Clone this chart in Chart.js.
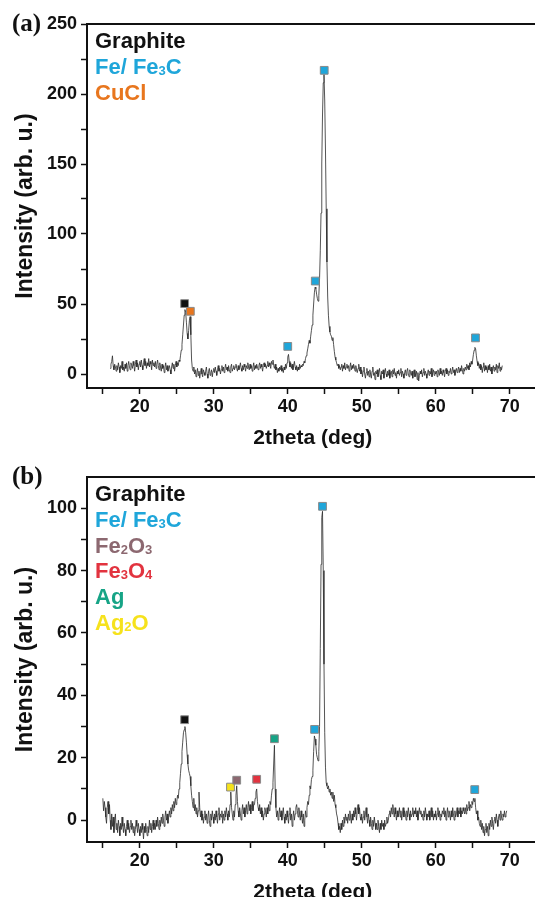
<!DOCTYPE html>
<html>
<head>
<meta charset="utf-8">
<script src="https://cdn.jsdelivr.net/npm/chart.js@4.4.1/dist/chart.umd.min.js"></script>
<style>
  html, body { margin: 0; padding: 0; background: #fff; overflow: hidden; }
  body { width: 535px; height: 897px; position: relative; }
  .panel { position: absolute; left: 0; }
  #wrapA { top: 0; }
  #wrapB { top: 453px; }
</style>
</head>
<body>
<div class="panel" id="wrapA"><canvas id="chartA" width="545" height="458"></canvas></div>
<div class="panel" id="wrapB"><canvas id="chartB" width="545" height="459"></canvas></div>
<script>
// scan (a): 2theta from 16.0 deg, 0.1 deg step (one row = 1 deg)
const startA = 16.0, stepA = 0.1;
const intensityA = [
  4, 7, 9, 13, 6, 3, 7, 5, 2, 6,
  3, 8, 5, 1, 6, 4, 9, 3, 5, 2,
  7, 4, 8, 2, 6, 9, 5, 3, 8, 6,
  4, 9, 6, 2, 7, 10, 5, 8, 3, 7,
  9, 5, 10, 6, 3, 8, 11, 6, 9, 4,
  8, 6, 11, 5, 9, 7, 3, 10, 6, 8,
  5, 9, 4, 7, 10, 6, 3, 8, 5, 2,
  7, 4, 6, 1, 5, 8, 3, 6, 2, 4,
  6, 3, 0, 5, 8, 4, 7, 2, 6, 9,
  5, 8, 6, 10, 9, 13, 17, 21, 28, 35,
  42, 46, 44, 37, 29, 25, 31, 38, 41, 28,
  10, 4, 2, 5, 0, 3, -2, 1, 4, -1,
  2, -3, 1, 4, 0, -2, 3, 1, -1, 2,
  5, 0, -3, 2, 4, -1, 1, 3, -2, 2,
  4, 1, 5, 2, -1, 3, 6, 2, 4, 0,
  3, 6, 2, 5, 1, 4, 7, 3, 5, 2,
  6, 3, 1, 5, 7, 2, 4, 6, 3, 5,
  7, 4, 2, 6, 3, 5, 8, 4, 2, 6,
  3, 7, 5, 2, 6, 4, 8, 5, 3, 7,
  4, 6, 2, 5, 8, 3, 6, 4, 7, 5,
  3, 6, 8, 4, 7, 5, 2, 6, 8, 5,
  7, 4, 6, 9, 5, 8, 6, 4, 9, 7,
  10, 6, 4, 7, 3, 5, 1, 4, 2, 5,
  3, 6, 2, 4, 1, 5, 3, 7, 4, 8,
  12, 14, 9, 5, 8, 4, 7, 3, 6, 9,
  5, 3, 6, 2, 5, 3, 7, 4, 6, 5,
  7, 6, 9, 8, 11, 13, 15, 18, 21, 24,
  22, 27, 31, 35, 42, 50, 58, 62, 61, 57,
  54, 52, 56, 68, 88, 115, 150, 185, 208, 214,
  195, 160, 118, 80, 55, 42, 34, 30, 28, 27,
  24, 26, 21, 16, 12, 10, 8, 6, 7, 4,
  6, 3, 5, 7, 2, 6, 4, 8, 3, 5,
  7, 4, 6, 2, 5, 8, 3, 6, 4, 7,
  5, 2, 6, 3, 1, 4, 7, 2, 5, 0,
  3, -2, 2, 5, 0, -3, 1, 4, -1, 2,
  -2, 3, 0, -3, 2, 5, -1, 1, -4, 2,
  0, 3, -2, 1, 4, -1, -4, 2, 0, 3,
  -3, 1, 4, 0, -2, 2, -1, 3, -3, 1,
  2, -2, 3, 0, 4, -1, 1, -3, 2, 0,
  3, -1, 1, 4, -2, 2, 0, -3, 1, 3,
  -1, 2, 4, 0, -2, 3, 1, -1, 2, -3,
  1, 3, -2, 0, 2, -4, 1, -5, -1, 2,
  0, 3, -2, 1, 4, -1, 2, 0, -3, 1,
  3, -1, 2, 0, 4, -2, 1, 3, -1, 2,
  0, 2, -2, 3, 1, -1, 4, 0, 2, -1,
  3, 1, -2, 2, 4, 0, 3, -1, 2, 1,
  4, 0, 2, 5, 1, 3, -1, 2, 4, 1,
  3, 5, 1, 4, 2, 6, 3, 0, 4, 2,
  5, 3, 7, 4, 6, 3, 8, 5, 9, 7,
  10, 14, 17, 19, 18, 13, 9, 6, 8, 4,
  7, 3, 6, 1, 5, 8, 2, 6, 3, 5,
  1, 6, 3, 7, 2, 5, 0, 4, 6, 2,
  5, 3, 7, 1, 6, 4, 8, 2, 5, 3,
  6
];

// scan (b): 2theta from 15.0 deg, 0.1 deg step (one row = 1 deg)
const startB = 15.0, stepB = 0.1;
const intensityB = [
  7, 3, 6, 4, 1, -1, 4, 6, 2, 5,
  0, -3, 2, -2, 1, -4, 0, 2, -3, -1,
  -4, 0, -2, -5, -1, -3, 1, -2, -4, -1,
  -3, -5, -2, 0, -3, -1, -4, -2, 0, -3,
  -1, -4, -2, -5, -3, 0, -2, -4, -1, -3,
  -5, -2, -4, -1, -3, -6, -2, -4, -1, -3,
  -5, -2, -4, 0, -3, -1, -4, -2, 0, -3,
  -1, -3, 0, -2, 1, -1, -3, 0, -2, 1,
  -1, 2, 0, -2, 1, 3, 0, 2, -1, 1,
  3, 1, 4, 2, 5, 3, 6, 4, 7, 5,
  6, 8, 7, 10, 12, 15, 18, 22, 25, 28,
  29, 30, 28, 25, 21, 18, 16, 15, 14, 11,
  8, 6, 4, 7, 3, 5, 2, 4, 1, 3,
  9, 4, 1, 3, 0, 2, -1, 1, 3, 0,
  2, -1, 1, 3, 0, -2, 2, 0, 3, 1,
  -1, 2, 0, 3, 1, -1, 2, 4, 0, 2,
  1, 3, -1, 2, 0, 3, 1, 4, 2, 0,
  3, 1, 5, 9, 4, 2, 0, 3, 1, 5,
  8, 11, 6, 3, 1, 4, 2, 0, 3, 5,
  2, 4, 1, 3, 5, 2, 4, 6, 3, 5,
  2, 4, 6, 3, 5, 5, 7, 9, 10, 6,
  4, 3, 5, 2, 4, 1, 3, 0, 2, 4,
  3, 1, 4, 2, 5, 3, 6, 5, 8, 10,
  12, 18, 24, 10, 4, 1, 3, 0, 2, 4,
  1, 3, 0, 2, 4, 1, -1, 2, 0, 3,
  1, -1, 2, 4, 0, 2, -2, 1, 3, 0,
  2, 4, 5, 3, 1, 4, 2, 0, 3, 1,
  -1, 2, -2, 0, 3, 1, 4, 6, 5, 8,
  11, 10, 13, 14, 16, 22, 27, 26, 24, 21,
  20, 19, 22, 30, 55, 82, 97, 99, 80, 50,
  28, 17, 12, 11, 10, 11, 9, 10, 8, 9,
  7, 9, 6, 8, 5, 4, 2, 1, -1, -3,
  -2, -4, -1, -3, 0, -2, 1, -1, 2, 0,
  1, -1, 2, 0, 3, 1, -1, 2, 0, 3,
  1, 4, 2, 0, 3, 5, 2, 4, 1, 0,
  2, -1, 1, 3, 0, 2, 4, 1, -1, 2,
  0, -2, 1, -1, -3, 0, -2, 1, -1, -3,
  -1, -3, 0, -2, -4, -1, -3, 0, -2, -1,
  -3, 0, -2, -1, 1, -1, 0, 2, 3, 1,
  4, 2, 5, 3, 1, 4, 2, 0, 3, 1,
  2, 4, 1, 3, 0, 2, 4, 1, 3, 2,
  0, 3, 1, 4, 2, 0, 3, 1, 2, 4,
  1, 3, 2, 4, 1, 3, 0, 2, 4, 2,
  3, 1, 2, 0, 3, 1, 4, 2, 0, 2,
  1, 3, 0, 2, 4, 1, 3, 0, 2, 1,
  3, 0, 2, 4, 1, 3, 0, 2, 1, 3,
  2, 4, 1, 3, 0, 2, 4, 1, 3, 2,
  0, 3, 1, 4, 2, 0, 3, 1, 2, 4,
  1, 3, 2, 4, 1, 3, 2, 4, 3, 2,
  4, 2, 5, 3, 4, 6, 3, 5, 4, 6,
  5, 7, 6, 7, 4, 2, 3, 0, 1, -1,
  -2, 0, -3, -1, -4, -2, -5, -3, -1, -4,
  -2, -5, -1, -3, 0, -2, 1, -1, -3, 0,
  1, -1, 2, 0, -2, 1, 2, 0, 3, 1,
  0, 2, 1, 3, 1, 2, 3
];

// phase labels and colours
const phasesA = ['Graphite', 'Fe/ Fe₃C', 'CuCl'];
const phaseColorsA = ['#111111', '#1fa6da', '#e8761e'];
const phasesB = ['Graphite', 'Fe/ Fe₃C', 'Fe₂O₃', 'Fe₃O₄', 'Ag', 'Ag₂O'];
const phaseColorsB = ['#111111', '#1fa6da', '#8c6870', '#e2333f', '#16a486', '#f6e21c'];

// peak markers: position, height, phase index
const peaksA_x = [26.06, 26.83, 40.0, 43.72, 44.93, 65.38];
const peaksA_y = [50.3, 44.8, 19.7, 66.4, 216.9, 25.8];
const peaksA_phase = [0, 2, 1, 1, 1, 1];
const peaksB_x = [26.06, 32.26, 33.1, 35.8, 38.2, 43.63, 44.7, 65.28];
const peaksB_y = [32.2, 10.6, 12.8, 13.1, 26.1, 29.1, 100.6, 9.8];
const peaksB_phase = [0, 5, 2, 3, 4, 1, 1, 1];

// axes
const xTicks = [15, 20, 25, 30, 35, 40, 45, 50, 55, 60, 65, 70];
const yTicksA = [0, 25, 50, 75, 100, 125, 150, 175, 200, 225, 250];
const yTicksB = [0, 10, 20, 30, 40, 50, 60, 70, 80, 90, 100];

const SANS = '"Liberation Sans", Arial, Helvetica, sans-serif';
const SUBS = '₀₁₂₃₄₅₆₇₈₉';

function drawPhase(ctx, text, x, y, color) {
  ctx.fillStyle = color;
  ctx.textBaseline = 'alphabetic';
  ctx.textAlign = 'left';
  let run = '', sub = false;
  const flush = () => {
    if (!run) return;
    ctx.font = sub ? 'bold 13px ' + SANS : 'bold 22px ' + SANS;
    ctx.fillText(run, x, sub ? y + 1 : y);
    x += ctx.measureText(run).width;
    run = '';
  };
  for (const ch of text) {
    const k = SUBS.indexOf(ch);
    const isSub = k >= 0;
    if (isSub !== sub) { flush(); sub = isSub; }
    run += isSub ? String(k) : ch;
  }
  flush();
}

const decor = {
  id: 'decor',
  afterDraw(chart, args, opts) {
    const {ctx, chartArea: a} = chart;
    ctx.save();
    ctx.strokeStyle = '#111';
    ctx.lineWidth = 2;
    ctx.strokeRect(a.left, a.top, a.right - a.left, a.bottom - a.top);
    ctx.font = 'bold 25px "Liberation Serif", "Times New Roman", serif';
    ctx.fillStyle = '#111';
    ctx.textBaseline = 'alphabetic';
    ctx.textAlign = 'left';
    ctx.fillText(opts.tag, 12, 31);
    opts.phases.forEach((p, i) => drawPhase(ctx, p, 95, 48 + i * 25.8, opts.colors[i]));
    ctx.restore();
  }
};

function makeChart(id, cfg) {
  const trace = cfg.values.map((v, i) => ({x: +(cfg.start + i * cfg.step).toFixed(2), y: v}));
  const marks = cfg.px.map((x, i) => ({x: x, y: cfg.py[i]}));
  const tickFont = {family: SANS, size: 18, weight: 'bold'};
  return new Chart(document.getElementById(id), {
    type: 'scatter',
    data: {
      datasets: [
        {
          data: marks, order: 0, pointStyle: 'rect', pointRadius: 5.5,
          backgroundColor: cfg.pphase.map(k => cfg.colors[k]),
          borderColor: '#8a8a8a', borderWidth: 1
        },
        {
          data: trace, order: 1, showLine: true, pointRadius: 0,
          borderColor: '#2a2a2a', borderWidth: 0.8, tension: 0
        }
      ]
    },
    options: {
      responsive: false,
      animation: false,
      devicePixelRatio: 1,
      layout: {padding: {top: 24, right: 5, bottom: 0, left: 0}},
      plugins: {
        legend: {display: false},
        tooltip: {enabled: false},
        decor: {tag: cfg.tag, phases: cfg.phases, colors: cfg.colors}
      },
      scales: {
        x: {
          type: 'linear', min: 12.86, max: 73.9,
          afterBuildTicks: s => { s.ticks = xTicks.map(v => ({value: v})); },
          afterFit: s => { s.height = 70; },
          ticks: {
            callback: v => (v % 10 === 0 ? v : ''),
            font: tickFont, color: '#111', padding: 2, autoSkip: false, maxRotation: 0
          },
          grid: {drawOnChartArea: false, tickLength: 6, tickWidth: 1.5, tickColor: '#111'},
          border: {color: '#111', width: 2},
          title: {
            display: true, text: '2theta (deg)', color: '#111',
            font: {family: SANS, size: 21, weight: 'bold'}, padding: {top: 0, bottom: 7}
          }
        },
        y: {
          type: 'linear', min: cfg.ymin, max: cfg.ymax,
          afterBuildTicks: s => { s.ticks = cfg.yTicks.map(v => ({value: v})); },
          afterFit: s => { s.width = 87; },
          ticks: {
            callback: v => (v % cfg.yLabelStep === 0 ? v : ''),
            font: tickFont, color: '#111', padding: 4, autoSkip: false
          },
          grid: {drawOnChartArea: false, tickLength: 6, tickWidth: 1.5, tickColor: '#111'},
          border: {color: '#111', width: 2},
          title: {
            display: true, text: 'Intensity (arb. u.)', color: '#111',
            font: {family: SANS, size: 23, weight: 'bold'}, padding: {top: 12, bottom: 0}
          }
        }
      }
    },
    plugins: [decor]
  });
}

makeChart('chartA', {
  tag: '(a)', start: startA, step: stepA, values: intensityA,
  px: peaksA_x, py: peaksA_y, pphase: peaksA_phase,
  phases: phasesA, colors: phaseColorsA,
  ymin: -10, ymax: 250, yTicks: yTicksA, yLabelStep: 50
});

makeChart('chartB', {
  tag: '(b)', start: startB, step: stepB, values: intensityB,
  px: peaksB_x, py: peaksB_y, pphase: peaksB_phase,
  phases: phasesB, colors: phaseColorsB,
  ymin: -7, ymax: 110, yTicks: yTicksB, yLabelStep: 20
});
</script>
</body>
</html>
